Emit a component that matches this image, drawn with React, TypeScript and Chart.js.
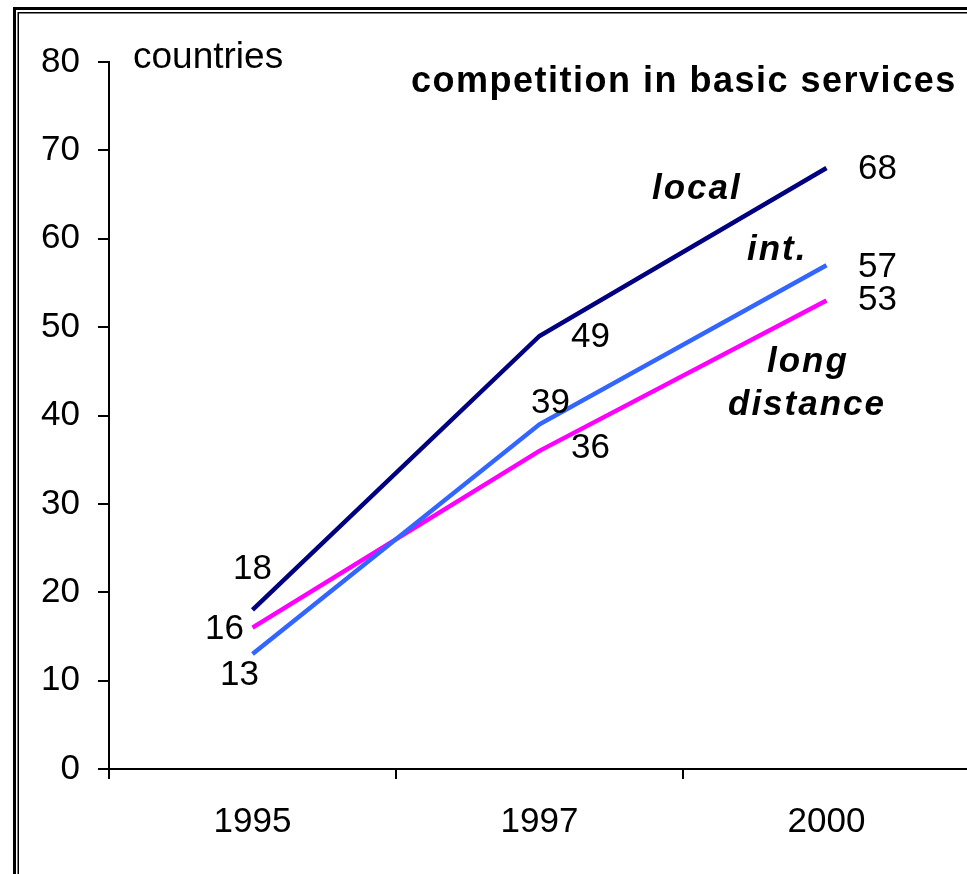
import React, { useEffect, useRef } from 'react';
import { Chart, registerables } from 'chart.js';

Chart.register(...registerables);

// ---- data ----
const years = ['1995', '1997', '2000'];
const localValues = [18, 49, 68];
const intValues = [13, 39, 57];
const longDistanceValues = [16, 36, 53];
const seriesNames = ['local', 'int.', 'long distance'];
const yMin = 0;
const yMax = 80;
const yStep = 10;
const titleText = 'competition in basic services';
const yUnitText = 'countries';

const FONT = '"Liberation Sans", Arial, Helvetica, sans-serif';

export default function App() {
  const ref = useRef<HTMLCanvasElement>(null);

  useEffect(() => {
    const canvas = ref.current;
    if (!canvas) return;

    // offsets (px) of value labels relative to each point
    const labelOffsets = [
      [[0, -41], [51, 1], [51, 1]],
      [[-13, 21], [11, -21], [51, 2]],
      [[-28, 2], [51, -3], [51, 0]],
    ];

    const decor = {
      id: 'decor',
      beforeDraw(chart: any) {
        const ctx = chart.ctx;
        ctx.save();
        ctx.fillStyle = '#fff';
        ctx.fillRect(0, 0, chart.width, chart.height);
        ctx.strokeStyle = '#000';
        ctx.lineWidth = 3;
        ctx.strokeRect(14.5, 8.5, 3000, 3000);
        ctx.lineWidth = 1.5;
        ctx.strokeRect(18.25, 12.75, 3000, 3000);
        ctx.restore();
      },
      afterDatasetsDraw(chart: any) {
        const ctx = chart.ctx;
        ctx.save();
        ctx.fillStyle = '#000';
        // value labels
        ctx.font = `35px ${FONT}`;
        ctx.textAlign = 'center';
        ctx.textBaseline = 'middle';
        chart.data.datasets.forEach((ds: any, di: number) => {
          const meta = chart.getDatasetMeta(di);
          meta.data.forEach((pt: any, i: number) => {
            const [dx, dy] = labelOffsets[di][i];
            ctx.fillText(String(ds.data[i]), pt.x + dx, pt.y + dy);
          });
        });
        // unit label
        ctx.textAlign = 'left';
        ctx.textBaseline = 'alphabetic';
        ctx.font = `37px ${FONT}`;
        ctx.fillText(yUnitText, 133, 68);
        // title
        ctx.font = `bold 36px ${FONT}`;
        (ctx as any).letterSpacing = '1.5px';
        ctx.fillText(titleText, 411, 92);
        // series names
        ctx.font = `italic bold 35px ${FONT}`;
        (ctx as any).letterSpacing = '2px';
        ctx.fillText(seriesNames[0], 652, 199);
        ctx.fillText(seriesNames[1], 747, 260);
        const [w1, w2] = seriesNames[2].split(' ');
        ctx.fillText(w1, 767, 372);
        ctx.fillText(w2, 728, 415);
        (ctx as any).letterSpacing = '0px';
        ctx.restore();
      },
    };

    const chart = new Chart(canvas, {
      type: 'line',
      data: {
        labels: years,
        datasets: [
          { label: seriesNames[0], data: localValues, borderColor: '#000080', borderWidth: 4.5, pointRadius: 0, tension: 0 },
          { label: seriesNames[1], data: intValues, borderColor: '#3366ff', borderWidth: 4.5, pointRadius: 0, tension: 0 },
          { label: seriesNames[2], data: longDistanceValues, borderColor: '#ff00ff', borderWidth: 4.5, pointRadius: 0, tension: 0 },
        ],
      },
      options: {
        animation: false,
        responsive: false,
        devicePixelRatio: 1,
        layout: { padding: { left: 0, top: 62, right: 30, bottom: 0 } },
        plugins: {
          legend: { display: false },
          title: { display: false },
          tooltip: { enabled: false },
        },
        scales: {
          x: {
            type: 'category',
            offset: true,
            grid: { offset: true, drawOnChartArea: false, drawTicks: true, tickLength: 10, color: '#000', lineWidth: 2 },
            border: { color: '#000', width: 2 },
            ticks: { font: { family: FONT, size: 35 }, color: '#000', padding: 22, maxRotation: 0 },
            afterFit(s: any) { s.height = 105; },
          },
          y: {
            min: yMin,
            max: yMax,
            grid: { drawOnChartArea: false, drawTicks: true, tickLength: 11, color: '#000', lineWidth: 2 },
            border: { color: '#000', width: 2 },
            ticks: { stepSize: yStep, font: { family: FONT, size: 35 }, color: '#000', padding: 18 },
            afterFit(s: any) { s.width = 109; },
          },
        },
      },
      plugins: [decor],
    });

    return () => chart.destroy();
  }, []);

  return (
    <div style={{ position: 'fixed', left: 0, top: 0, width: 967, height: 874, overflow: 'hidden', background: '#fff' }}>
      <canvas ref={ref} width={1000} height={874} style={{ display: 'block' }} />
    </div>
  );
}
